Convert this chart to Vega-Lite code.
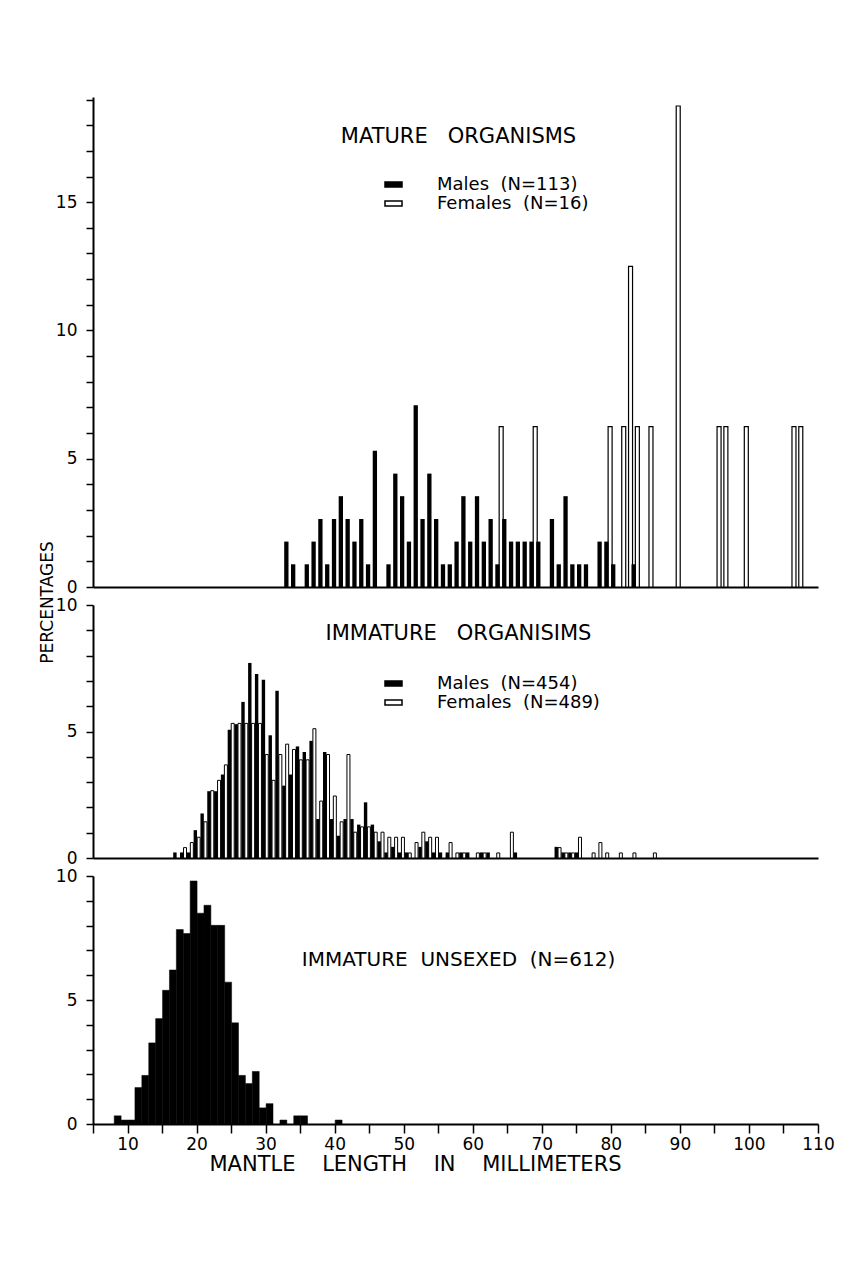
{
  "$schema": "https://vega.github.io/schema/vega-lite/v6.json",
  "background": "white",
  "padding": {"left": 38, "top": 97, "right": 35, "bottom": 95},
  "bounds": "flush",
  "spacing": 18,
  "config": {
    "view": {"stroke": null},
    "font": "DejaVu Sans",
    "axis": {"domainColor": "black", "domainWidth": 2, "tickColor": "black", "tickWidth": 1.5, "tickSize": 7, "labelColor": "black", "labelFont": "DejaVu Sans", "labelFontSize": 17, "grid": false, "titleColor": "black", "titleFont": "DejaVu Sans", "titleFontWeight": "normal", "titleFontSize": 17},
    "title": {"font": "DejaVu Sans", "fontSize": 21, "fontWeight": "normal", "color": "black", "frame": "group", "anchor": "middle", "baseline": "middle"},
    "legend": {"labelFont": "DejaVu Sans", "labelFontSize": 18, "labelColor": "black", "labelLimit": 400}
  },
  "resolve": {"scale": {"x": "independent", "y": "independent", "fill": "independent"}, "legend": {"fill": "independent"}},
  "datasets": {
    "mature": [
      {"mm": 32, "sex": "Males", "pct": 1.77}, {"mm": 33, "sex": "Males", "pct": 0.885}, {"mm": 35, "sex": "Males", "pct": 0.885},
      {"mm": 36, "sex": "Males", "pct": 1.77}, {"mm": 37, "sex": "Males", "pct": 2.65}, {"mm": 38, "sex": "Males", "pct": 0.885},
      {"mm": 39, "sex": "Males", "pct": 2.65}, {"mm": 40, "sex": "Males", "pct": 3.54}, {"mm": 41, "sex": "Males", "pct": 2.65},
      {"mm": 42, "sex": "Males", "pct": 1.77}, {"mm": 43, "sex": "Males", "pct": 2.65}, {"mm": 44, "sex": "Males", "pct": 0.885},
      {"mm": 45, "sex": "Males", "pct": 5.31}, {"mm": 47, "sex": "Males", "pct": 0.885}, {"mm": 48, "sex": "Males", "pct": 4.42},
      {"mm": 49, "sex": "Males", "pct": 3.54}, {"mm": 50, "sex": "Males", "pct": 1.77}, {"mm": 51, "sex": "Males", "pct": 7.08},
      {"mm": 52, "sex": "Males", "pct": 2.65}, {"mm": 53, "sex": "Males", "pct": 4.42}, {"mm": 54, "sex": "Males", "pct": 2.65},
      {"mm": 55, "sex": "Males", "pct": 0.885}, {"mm": 56, "sex": "Males", "pct": 0.885}, {"mm": 57, "sex": "Males", "pct": 1.77},
      {"mm": 58, "sex": "Males", "pct": 3.54}, {"mm": 59, "sex": "Males", "pct": 1.77}, {"mm": 60, "sex": "Males", "pct": 3.54},
      {"mm": 61, "sex": "Males", "pct": 1.77}, {"mm": 62, "sex": "Males", "pct": 2.65}, {"mm": 63, "sex": "Males", "pct": 0.885},
      {"mm": 64, "sex": "Males", "pct": 2.65}, {"mm": 65, "sex": "Males", "pct": 1.77}, {"mm": 66, "sex": "Males", "pct": 1.77},
      {"mm": 67, "sex": "Males", "pct": 1.77}, {"mm": 68, "sex": "Males", "pct": 1.77}, {"mm": 69, "sex": "Males", "pct": 1.77},
      {"mm": 71, "sex": "Males", "pct": 2.65}, {"mm": 72, "sex": "Males", "pct": 0.885}, {"mm": 73, "sex": "Males", "pct": 3.54},
      {"mm": 74, "sex": "Males", "pct": 0.885}, {"mm": 75, "sex": "Males", "pct": 0.885}, {"mm": 76, "sex": "Males", "pct": 0.885},
      {"mm": 78, "sex": "Males", "pct": 1.77}, {"mm": 79, "sex": "Males", "pct": 1.77}, {"mm": 80, "sex": "Males", "pct": 0.885},
      {"mm": 83, "sex": "Males", "pct": 0.885},
      {"mm": 64, "sex": "Females", "pct": 6.25}, {"mm": 69, "sex": "Females", "pct": 6.25}, {"mm": 80, "sex": "Females", "pct": 6.25},
      {"mm": 82, "sex": "Females", "pct": 6.25}, {"mm": 83, "sex": "Females", "pct": 12.5}, {"mm": 84, "sex": "Females", "pct": 6.25},
      {"mm": 86, "sex": "Females", "pct": 6.25}, {"mm": 90, "sex": "Females", "pct": 18.75}, {"mm": 96, "sex": "Females", "pct": 6.25},
      {"mm": 97, "sex": "Females", "pct": 6.25}, {"mm": 100, "sex": "Females", "pct": 6.25}, {"mm": 107, "sex": "Females", "pct": 6.25},
      {"mm": 108, "sex": "Females", "pct": 6.25}
    ],
    "immature": [
      {"mm": 16, "sex": "Males", "pct": 0.22}, {"mm": 17, "sex": "Males", "pct": 0.22}, {"mm": 18, "sex": "Males", "pct": 0.22},
      {"mm": 19, "sex": "Males", "pct": 1.10}, {"mm": 20, "sex": "Males", "pct": 1.76}, {"mm": 21, "sex": "Males", "pct": 2.64},
      {"mm": 22, "sex": "Males", "pct": 2.64}, {"mm": 23, "sex": "Males", "pct": 3.30}, {"mm": 24, "sex": "Males", "pct": 5.07},
      {"mm": 25, "sex": "Males", "pct": 5.29}, {"mm": 26, "sex": "Males", "pct": 6.17}, {"mm": 27, "sex": "Males", "pct": 7.71},
      {"mm": 28, "sex": "Males", "pct": 7.27}, {"mm": 29, "sex": "Males", "pct": 7.05}, {"mm": 30, "sex": "Males", "pct": 4.85},
      {"mm": 31, "sex": "Males", "pct": 6.61}, {"mm": 32, "sex": "Males", "pct": 2.86}, {"mm": 33, "sex": "Males", "pct": 3.30},
      {"mm": 34, "sex": "Males", "pct": 4.41}, {"mm": 35, "sex": "Males", "pct": 4.19}, {"mm": 36, "sex": "Males", "pct": 4.63},
      {"mm": 37, "sex": "Males", "pct": 1.54}, {"mm": 38, "sex": "Males", "pct": 4.19}, {"mm": 39, "sex": "Males", "pct": 1.54},
      {"mm": 40, "sex": "Males", "pct": 0.88}, {"mm": 41, "sex": "Males", "pct": 1.54}, {"mm": 42, "sex": "Males", "pct": 1.54},
      {"mm": 43, "sex": "Males", "pct": 1.32}, {"mm": 44, "sex": "Males", "pct": 2.20}, {"mm": 45, "sex": "Males", "pct": 1.32},
      {"mm": 46, "sex": "Males", "pct": 0.66}, {"mm": 47, "sex": "Males", "pct": 0.22}, {"mm": 48, "sex": "Males", "pct": 0.44},
      {"mm": 49, "sex": "Males", "pct": 0.22}, {"mm": 50, "sex": "Males", "pct": 0.22}, {"mm": 52, "sex": "Males", "pct": 0.44},
      {"mm": 53, "sex": "Males", "pct": 0.66}, {"mm": 54, "sex": "Males", "pct": 0.22}, {"mm": 55, "sex": "Males", "pct": 0.22},
      {"mm": 56, "sex": "Males", "pct": 0.22}, {"mm": 58, "sex": "Males", "pct": 0.22}, {"mm": 59, "sex": "Males", "pct": 0.22},
      {"mm": 61, "sex": "Males", "pct": 0.22}, {"mm": 62, "sex": "Males", "pct": 0.22}, {"mm": 66, "sex": "Males", "pct": 0.22},
      {"mm": 72, "sex": "Males", "pct": 0.44}, {"mm": 73, "sex": "Males", "pct": 0.22}, {"mm": 74, "sex": "Males", "pct": 0.22},
      {"mm": 75, "sex": "Males", "pct": 0.22},
      {"mm": 18, "sex": "Females", "pct": 0.41}, {"mm": 19, "sex": "Females", "pct": 0.61}, {"mm": 20, "sex": "Females", "pct": 0.82},
      {"mm": 21, "sex": "Females", "pct": 1.43}, {"mm": 22, "sex": "Females", "pct": 2.66}, {"mm": 23, "sex": "Females", "pct": 3.07},
      {"mm": 24, "sex": "Females", "pct": 3.68}, {"mm": 25, "sex": "Females", "pct": 5.32}, {"mm": 26, "sex": "Females", "pct": 5.32},
      {"mm": 27, "sex": "Females", "pct": 5.32}, {"mm": 28, "sex": "Females", "pct": 5.32}, {"mm": 29, "sex": "Females", "pct": 5.32},
      {"mm": 30, "sex": "Females", "pct": 4.09}, {"mm": 31, "sex": "Females", "pct": 3.07}, {"mm": 32, "sex": "Females", "pct": 4.09},
      {"mm": 33, "sex": "Females", "pct": 4.50}, {"mm": 34, "sex": "Females", "pct": 4.29}, {"mm": 35, "sex": "Females", "pct": 3.88},
      {"mm": 36, "sex": "Females", "pct": 3.88}, {"mm": 37, "sex": "Females", "pct": 5.11}, {"mm": 38, "sex": "Females", "pct": 2.25},
      {"mm": 39, "sex": "Females", "pct": 4.09}, {"mm": 40, "sex": "Females", "pct": 2.45}, {"mm": 41, "sex": "Females", "pct": 1.43},
      {"mm": 42, "sex": "Females", "pct": 4.09}, {"mm": 43, "sex": "Females", "pct": 1.02}, {"mm": 44, "sex": "Females", "pct": 1.23},
      {"mm": 45, "sex": "Females", "pct": 1.23}, {"mm": 46, "sex": "Females", "pct": 1.02}, {"mm": 47, "sex": "Females", "pct": 1.02},
      {"mm": 48, "sex": "Females", "pct": 0.82}, {"mm": 49, "sex": "Females", "pct": 0.82}, {"mm": 50, "sex": "Females", "pct": 0.82},
      {"mm": 51, "sex": "Females", "pct": 0.20}, {"mm": 52, "sex": "Females", "pct": 0.61}, {"mm": 53, "sex": "Females", "pct": 1.02},
      {"mm": 54, "sex": "Females", "pct": 0.82}, {"mm": 55, "sex": "Females", "pct": 0.82}, {"mm": 57, "sex": "Females", "pct": 0.61},
      {"mm": 58, "sex": "Females", "pct": 0.20}, {"mm": 59, "sex": "Females", "pct": 0.20}, {"mm": 61, "sex": "Females", "pct": 0.20},
      {"mm": 62, "sex": "Females", "pct": 0.20}, {"mm": 64, "sex": "Females", "pct": 0.20}, {"mm": 66, "sex": "Females", "pct": 1.02},
      {"mm": 73, "sex": "Females", "pct": 0.41}, {"mm": 74, "sex": "Females", "pct": 0.20}, {"mm": 75, "sex": "Females", "pct": 0.20},
      {"mm": 76, "sex": "Females", "pct": 0.82}, {"mm": 78, "sex": "Females", "pct": 0.20}, {"mm": 79, "sex": "Females", "pct": 0.61},
      {"mm": 80, "sex": "Females", "pct": 0.20}, {"mm": 82, "sex": "Females", "pct": 0.20}, {"mm": 84, "sex": "Females", "pct": 0.20},
      {"mm": 87, "sex": "Females", "pct": 0.20}
    ],
    "unsexed": [
      {"mm": 8, "pct": 0.33}, {"mm": 9, "pct": 0.16}, {"mm": 10, "pct": 0.16}, {"mm": 11, "pct": 1.47}, {"mm": 12, "pct": 1.96},
      {"mm": 13, "pct": 3.27}, {"mm": 14, "pct": 4.25}, {"mm": 15, "pct": 5.39}, {"mm": 16, "pct": 6.21}, {"mm": 17, "pct": 7.84},
      {"mm": 18, "pct": 7.68}, {"mm": 19, "pct": 9.80}, {"mm": 20, "pct": 8.50}, {"mm": 21, "pct": 8.82}, {"mm": 22, "pct": 8.01},
      {"mm": 23, "pct": 8.01}, {"mm": 24, "pct": 5.72}, {"mm": 25, "pct": 4.08}, {"mm": 26, "pct": 1.96}, {"mm": 27, "pct": 1.63},
      {"mm": 28, "pct": 2.12}, {"mm": 29, "pct": 0.65}, {"mm": 30, "pct": 0.82}, {"mm": 32, "pct": 0.16}, {"mm": 34, "pct": 0.33},
      {"mm": 35, "pct": 0.33}, {"mm": 40, "pct": 0.16}
    ]
  },
  "vconcat": [
    {
      "width": 725,
      "height": 490,
      "title": {"text": "MATURE\u00a0\u00a0 ORGANISMS", "offset": -50, "dx": 3},
      "data": {"name": "mature"},
      "encoding": {
        "x": {"field": "mm", "type": "quantitative", "scale": {"domain": [5, 110], "nice": false, "zero": false}, "axis": {"labels": false, "ticks": false, "title": null}},
        "y": {"field": "pct", "type": "quantitative", "scale": {"domain": [0, 19.1], "nice": false}, "axis": {"values": [0,1,2,3,4,5,6,7,8,9,10,11,12,13,14,15,16,17,18,19], "labelExpr": "datum.value % 5 == 0 ? datum.label : ''", "title": "PERCENTAGES", "titleAngle": 270, "titleAlign": "center", "titleBaseline": "middle", "titleX": -46, "titleY": 505, "labelPadding": 9}},
        "fill": {"field": "sex", "type": "nominal", "scale": {"domain": ["Males", "Females"], "range": ["black", "white"]},
          "legend": {"title": null, "orient": "none", "legendX": 291, "legendY": 78, "symbolType": "M-1,-0.3H1V0.3H-1Z", "symbolSize": 289, "symbolStrokeColor": "black", "symbolStrokeWidth": 1.5, "labelOffset": 34, "rowPadding": 0, "labelExpr": "datum.label == 'Males' ? 'Males\u00a0 (N=113)' : 'Females\u00a0 (N=16)'"}}
      },
      "layer": [
        {"transform": [{"filter": "datum.sex == 'Females'"}], "mark": {"type": "bar", "width": 4, "xOffset": 1.4, "stroke": "black", "strokeWidth": 1.2}},
        {"transform": [{"filter": "datum.sex == 'Males'"}], "mark": {"type": "bar", "width": 4.3, "xOffset": 4.5}}
      ]
    },
    {
      "width": 725,
      "height": 253,
      "title": {"text": "IMMATURE\u00a0\u00a0 ORGANISIMS", "offset": -48, "dx": 3},
      "data": {"name": "immature"},
      "encoding": {
        "x": {"field": "mm", "type": "quantitative", "scale": {"domain": [5, 110], "nice": false, "zero": false}, "axis": {"labels": false, "ticks": false, "title": null}},
        "y": {"field": "pct", "type": "quantitative", "scale": {"domain": [0, 10], "nice": false}, "axis": {"values": [0,1,2,3,4,5,6,7,8,9,10], "labelExpr": "datum.value % 5 == 0 ? datum.label : ''", "title": null, "labelPadding": 9}},
        "fill": {"field": "sex", "type": "nominal", "scale": {"domain": ["Males", "Females"], "range": ["black", "white"]},
          "legend": {"title": null, "orient": "none", "legendX": 291, "legendY": 69, "symbolType": "M-1,-0.3H1V0.3H-1Z", "symbolSize": 289, "symbolStrokeColor": "black", "symbolStrokeWidth": 1.5, "labelOffset": 34, "rowPadding": 0, "labelExpr": "datum.label == 'Males' ? 'Males\u00a0 (N=454)' : 'Females\u00a0 (N=489)'"}}
      },
      "layer": [
        {"transform": [{"filter": "datum.sex == 'Females'"}], "mark": {"type": "bar", "width": 3, "xOffset": -1.5, "stroke": "black", "strokeWidth": 1}},
        {"transform": [{"filter": "datum.sex == 'Males'"}], "mark": {"type": "bar", "width": 3.4, "xOffset": 2}}
      ]
    },
    {
      "width": 725,
      "height": 248,
      "title": {"text": "IMMATURE\u00a0 UNSEXED\u00a0 (N=612)", "offset": -103, "dx": 3, "fontSize": 20},
      "data": {"name": "unsexed"},
      "mark": {"type": "bar", "binSpacing": 0, "color": "black", "stroke": "black", "strokeWidth": 0.5},
      "encoding": {
        "x": {"field": "mm", "type": "quantitative", "bin": {"step": 1, "extent": [5, 110]}, "scale": {"domain": [5, 110], "nice": false, "zero": false},
          "axis": {"values": [5,10,15,20,25,30,35,40,45,50,55,60,65,70,75,80,85,90,95,100,105,110], "labelExpr": "datum.value % 10 == 0 ? datum.label : ''", "title": "MANTLE\u00a0\u00a0\u00a0 LENGTH\u00a0\u00a0\u00a0 IN\u00a0\u00a0\u00a0 MILLIMETERS", "titleFontSize": 21, "titleX": 322, "titleAlign": "center", "titlePadding": 1, "labelPadding": 3, "tickSize": 9, "labelFlush": false, "labelOverlap": false}},
        "y": {"field": "pct", "type": "quantitative", "scale": {"domain": [0, 10], "nice": false}, "axis": {"values": [0,1,2,3,4,5,6,7,8,9,10], "labelExpr": "datum.value % 5 == 0 ? datum.label : ''", "title": null, "labelPadding": 9}}
      }
    }
  ]
}
